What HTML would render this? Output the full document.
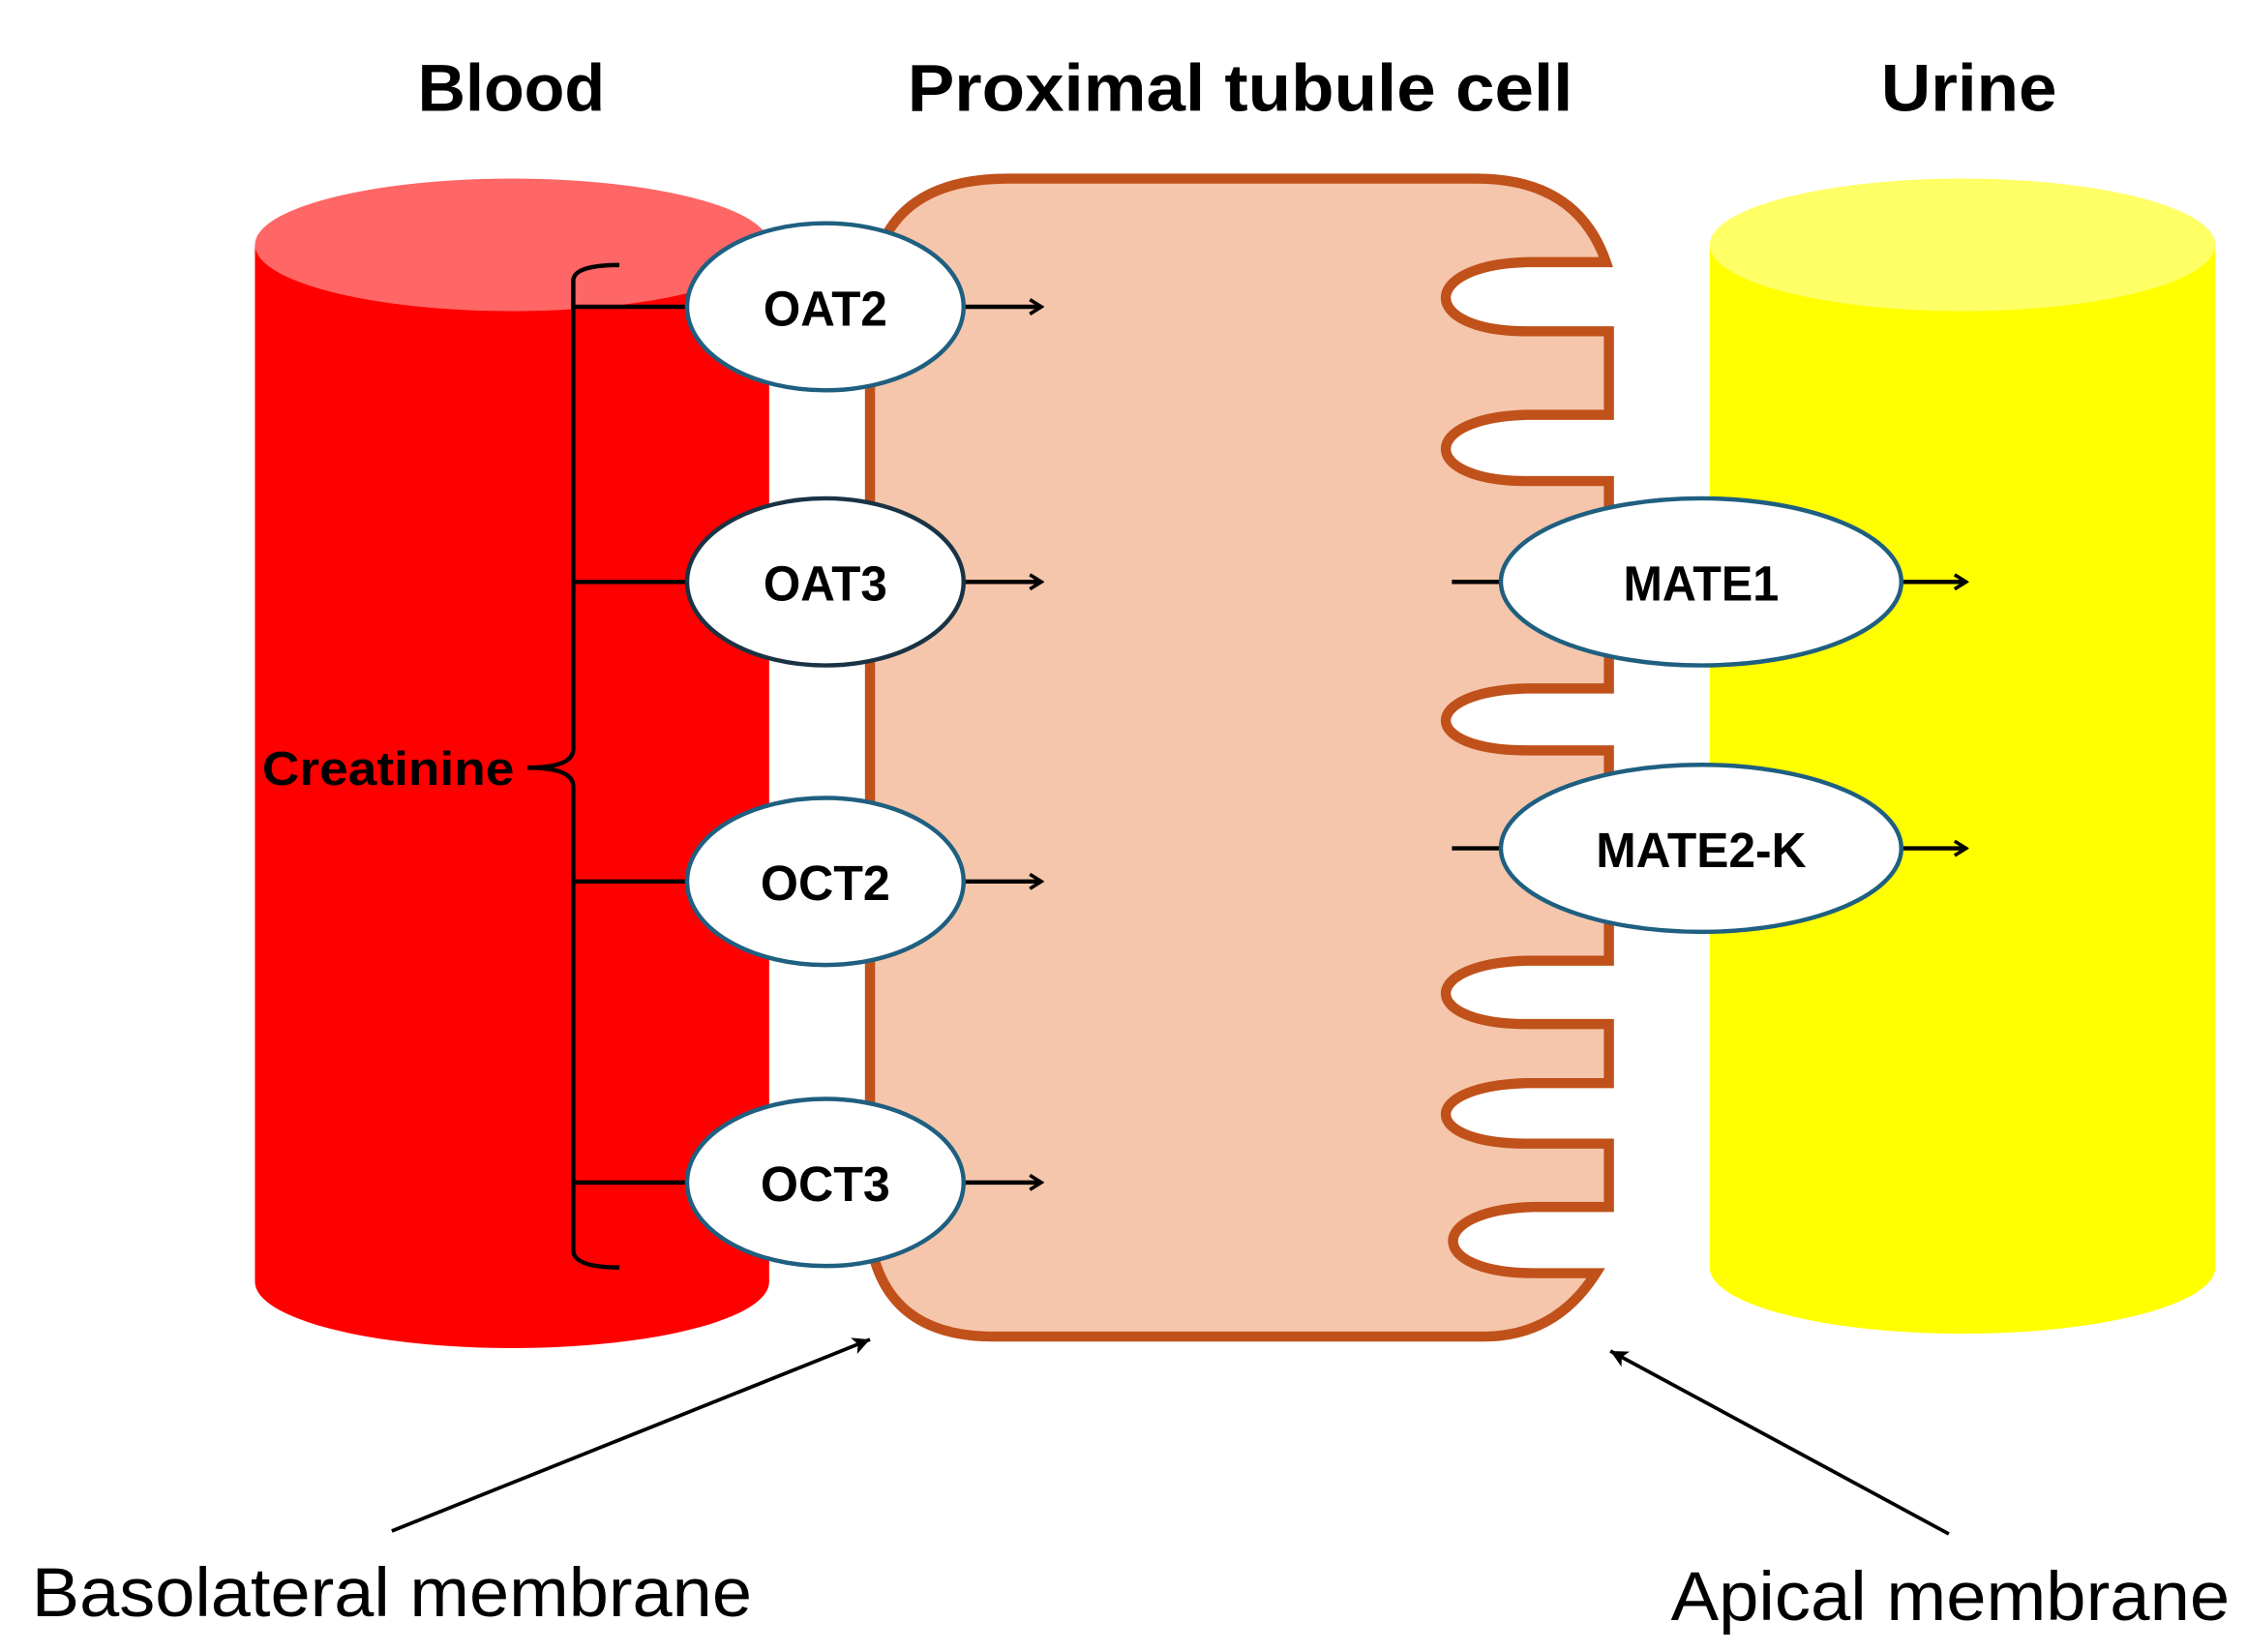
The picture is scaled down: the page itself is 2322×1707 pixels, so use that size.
<!DOCTYPE html>
<html><head><meta charset="utf-8"><style>
html,body{margin:0;padding:0;background:#fff;}
svg{display:block;}
text{font-family:"Liberation Sans",sans-serif;}
</style></head><body>
<svg width="2322" height="1707" viewBox="0 0 1560 1147" preserveAspectRatio="none" xmlns="http://www.w3.org/2000/svg">
<defs>
<marker id="ah" markerWidth="12" markerHeight="12" refX="10" refY="6" orient="auto" markerUnits="userSpaceOnUse">
<path d="M2,1 L10,6 L2,11" fill="none" stroke="#000" stroke-width="2.4"/>
</marker>
<marker id="ah2" markerWidth="14" markerHeight="14" refX="12" refY="7" orient="auto" markerUnits="userSpaceOnUse">
<path d="M0,1 L12,7 L0,13 L3,7 Z" fill="#000"/>
</marker>
</defs>
<!-- titles -->
<text x="290" y="77" font-size="46" font-weight="bold" textLength="130" lengthAdjust="spacingAndGlyphs">Blood</text>
<text x="630" y="77" font-size="46" font-weight="bold" textLength="462" lengthAdjust="spacingAndGlyphs">Proximal tubule cell</text>
<text x="1306" y="77" font-size="46" font-weight="bold" textLength="122" lengthAdjust="spacingAndGlyphs">Urine</text>
<!-- red cylinder -->
<rect x="177" y="170" width="357" height="720" fill="#ff0000"/>
<ellipse cx="355.5" cy="890" rx="178.5" ry="46" fill="#ff0000"/>
<ellipse cx="355.5" cy="170" rx="178.5" ry="46" fill="#ff6666"/>
<!-- yellow cylinder -->
<rect x="1187" y="170" width="351" height="710" fill="#ffff00"/>
<ellipse cx="1362.5" cy="880" rx="175.5" ry="46" fill="#ffff00"/>
<ellipse cx="1362.5" cy="170" rx="175.5" ry="46" fill="#ffff66"/>
<!-- cell -->
<path d="M604,215 Q604,124 700,124 L1025,124 Q1095,124 1115,182
 L1060,182 C985,184 985,230 1060,230 L1117,230
 L1117,288 L1060,288 C985,290 985,334 1060,334 L1117,334
 L1117,478 L1060,478 C985,480 985,521 1060,521 L1117,521
 L1117,667 L1060,667 C985,669 985,711 1060,711 L1117,711
 L1117,752 L1060,752 C985,754 985,794 1060,794 L1117,794
 L1117,838 L1065,838 C990,840 990,884 1065,884 L1108,884
 Q1080,928 1030,928 L690,928 Q614,928 604,860 Z"
 fill="#f5c6ab" stroke="#c0511a" stroke-width="7" stroke-linejoin="miter"/>
<!-- bracket -->
<g stroke="#000" stroke-width="3" fill="none">
<path d="M430,184 Q398,184 398,195 L398,520 Q398,533 366,533 Q398,533 398,546 L398,868 Q398,880 430,880"/>
<line x1="398" y1="213" x2="478" y2="213"/>
<line x1="398" y1="404" x2="478" y2="404"/>
<line x1="398" y1="612" x2="478" y2="612"/>
<line x1="398" y1="821" x2="478" y2="821"/>
<line x1="1008" y1="404" x2="1042" y2="404"/>
<line x1="1008" y1="589" x2="1042" y2="589"/>
<line x1="670" y1="213" x2="723" y2="213" marker-end="url(#ah)"/>
<line x1="670" y1="404" x2="723" y2="404" marker-end="url(#ah)"/>
<line x1="670" y1="612" x2="723" y2="612" marker-end="url(#ah)"/>
<line x1="670" y1="821" x2="723" y2="821" marker-end="url(#ah)"/>
<line x1="1320" y1="404" x2="1365" y2="404" marker-end="url(#ah)"/>
<line x1="1320" y1="589" x2="1365" y2="589" marker-end="url(#ah)"/>
</g>
<text x="182" y="545" font-size="33" font-weight="bold" textLength="175" lengthAdjust="spacingAndGlyphs">Creatinine</text>
<!-- transporters -->
<g fill="#fff" stroke-width="3">
<ellipse cx="573" cy="213" rx="96" ry="58" stroke="#1f5f80"/>
<ellipse cx="573" cy="404" rx="96" ry="58" stroke="#1a3344"/>
<ellipse cx="573" cy="612" rx="96" ry="58" stroke="#1f5f80"/>
<ellipse cx="573" cy="821" rx="96" ry="58" stroke="#1f5f80"/>
<ellipse cx="1181" cy="404" rx="139" ry="58" stroke="#1f5f80"/>
<ellipse cx="1181" cy="589" rx="139" ry="58" stroke="#1f5f80"/>
</g>
<g font-size="34" font-weight="bold" text-anchor="middle">
<text x="573" y="226" textLength="86" lengthAdjust="spacingAndGlyphs">OAT2</text>
<text x="573" y="417" textLength="86" lengthAdjust="spacingAndGlyphs">OAT3</text>
<text x="573" y="625" textLength="90" lengthAdjust="spacingAndGlyphs">OCT2</text>
<text x="573" y="834" textLength="90" lengthAdjust="spacingAndGlyphs">OCT3</text>
<text x="1181" y="417" textLength="108" lengthAdjust="spacingAndGlyphs">MATE1</text>
<text x="1181" y="602" textLength="146" lengthAdjust="spacingAndGlyphs">MATE2-K</text>
</g>
<!-- membrane arrows -->
<line x1="272" y1="1063" x2="604" y2="930" stroke="#000" stroke-width="2.5" marker-end="url(#ah2)"/>
<line x1="1353" y1="1065" x2="1118" y2="938" stroke="#000" stroke-width="2.5" marker-end="url(#ah2)"/>
<text x="22" y="1122" font-size="48" textLength="500" lengthAdjust="spacingAndGlyphs">Basolateral membrane</text>
<text x="1160" y="1125" font-size="48" textLength="388" lengthAdjust="spacingAndGlyphs">Apical membrane</text>
</svg>
</body></html>
